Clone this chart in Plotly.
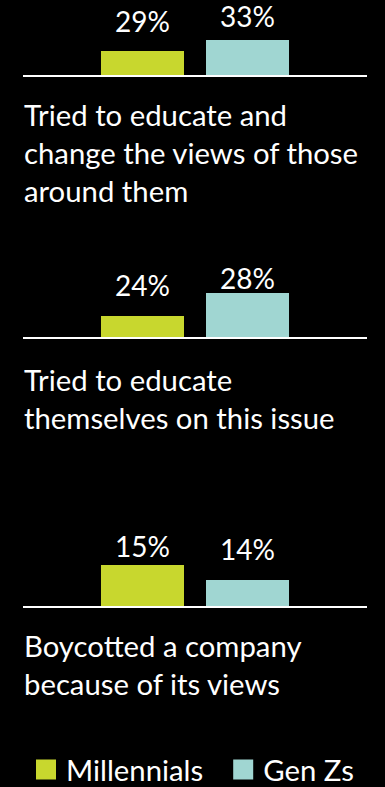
import plotly.graph_objects as go

# ---- data ----
categories = [
    "Tried to educate and<br>change the views of those<br>around them",
    "Tried to educate<br>themselves on this issue",
    "Boycotted a company<br>because of its views",
]
series_names = ["Millennials", "Gen Zs"]
millennials = [29, 24, 15]
gen_zs = [33, 28, 14]

# ---- style / layout settings ----
W, H = 385, 787
FONT = "Lato"
colors = ["#C8D72E", "#A0D6D2"]
panel_bottom_px = [75, 337, 606]
panel_height_px = 60
y_ranges = [[20.3, 42.1], [20.35, 30.8], [12.27, 16.27]]
label_lift = [[11, 5], [12, -4], [0, 12]]   # px tweak for value labels
cat_shift = [-20, -23, -20]
bar_half_spacing_px = 52.5
legend_pad = "\u00a0\u00a0"

def ydom(bottom, height):
    return [1 - bottom / H, 1 - (bottom - height) / H]

fig = go.Figure()
values = [millennials, gen_zs]
annotations = []
for i, cat in enumerate(categories):
    ax = "" if i == 0 else str(i + 1)
    for s, name in enumerate(series_names):
        fig.add_trace(go.Bar(
            x=[cat], y=[values[s][i]], name=name,
            marker=dict(color=colors[s], line=dict(width=0)),
            showlegend=False, xaxis="x" + ax, yaxis="y" + ax,
            hoverinfo="skip",
        ))
        annotations.append(dict(
            x=cat, y=values[s][i], xref="x" + ax, yref="y" + ax,
            text=f"{values[s][i]}%", showarrow=False,
            xshift=(-1 if s == 0 else 1) * bar_half_spacing_px,
            yanchor="bottom", yshift=label_lift[i][s],
            font=dict(family=FONT, size=28, color="white"),
        ))
    annotations.append(dict(
        x=0, y=0, xref=f"x{ax} domain", yref=f"y{ax} domain",
        xanchor="left", yanchor="top", align="left", yshift=cat_shift[i],
        xshift=-1,
        text=cat, showarrow=False,
        font=dict(family=FONT, size=29.3, color="white"),
    ))

# legend entries
for s, name in enumerate(series_names):
    fig.add_trace(go.Scatter(
        x=[None], y=[None], mode="markers",
        name=name + (legend_pad if s == 0 else ""),
        marker=dict(symbol="square", size=16, color=colors[s],
                    line=dict(width=4, color=colors[s])),
        showlegend=True,
    ))

layout = dict(
    width=W, height=H,
    paper_bgcolor="black", plot_bgcolor="black",
    margin=dict(l=0, r=0, t=0, b=0, autoexpand=False),
    barmode="group", bargap=0.3895, bargroupgap=0.2095,
    annotations=annotations,
    legend=dict(orientation="h", x=26 / W, xanchor="left",
                y=1 - 770 / H, yanchor="middle",
                font=dict(family=FONT, size=29.3, color="white"),
                bgcolor="rgba(0,0,0,0)", itemsizing="trace"),
    font=dict(family=FONT, color="white"),
)
for i in range(3):
    ax = "" if i == 0 else str(i + 1)
    layout["xaxis" + ax] = dict(
        domain=[23 / W, 367 / W], anchor="y" + ax,
        showline=True, linecolor="white", linewidth=2,
        showticklabels=False, ticks="", showgrid=False, zeroline=False,
        fixedrange=True,
    )
    layout["yaxis" + ax] = dict(
        domain=ydom(panel_bottom_px[i], panel_height_px), anchor="x" + ax,
        range=y_ranges[i], visible=False, fixedrange=True,
    )
fig.update_layout(**layout)
fig.write_html("out.html")
